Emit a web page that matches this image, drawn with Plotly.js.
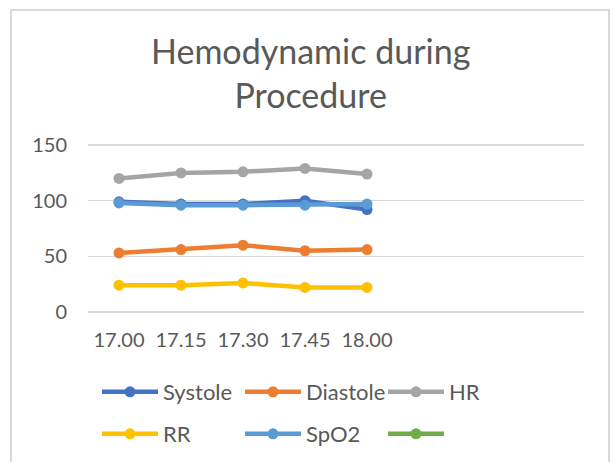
<!DOCTYPE html>
<html>
<head>
<meta charset="utf-8">
<script src="https://cdn.plot.ly/plotly-3.0.1.min.js"></script>
<style>
  html, body { margin: 0; padding: 0; background: #ffffff; }
  #frame { position: absolute; left: 10px; top: 9px; width: 600px; height: 470px; border: 2px solid #d9d9d9; box-sizing: border-box; }
  #chart { position: absolute; left: 0; top: 0; width: 614px; height: 462px; }
</style>
</head>
<body>
<div id="frame"></div>
<div id="chart"></div>
<script>
const times = ["17.00", "17.15", "17.30", "17.45", "18.00"];
const systole = [99, 97, 97, 100, 92];
const diastole = [53, 56, 60, 55, 56];
const hr = [120, 125, 126, 129, 124];
const rr = [24, 24, 26, 22, 22];
const spo2 = [98, 96, 96, 96, 97];
const extra = [null, null, null, null, null];
const yTicks = [0, 50, 100, 150];

const colors = {
  systole: "#4472C4", diastole: "#ED7D31", hr: "#A5A5A5",
  rr: "#FFC000", spo2: "#5B9BD5", extra: "#70AD47"
};

function series(name, y, color, legend) {
  return {
    type: "scatter", mode: "lines+markers", name: name,
    x: times, y: y, legend: legend,
    line: { color: color, width: 4.5 },
    marker: { color: color, size: 11 },
    hoverinfo: "skip"
  };
}

const data = [
  series("Systole", systole, colors.systole, "legend"),
  series("Diastole", diastole, colors.diastole, "legend"),
  series("HR", hr, colors.hr, "legend"),
  series("RR", rr, colors.rr, "legend2"),
  series("SpO2", spo2, colors.spo2, "legend2"),
  series(" ", extra, colors.extra, "legend2")
];

const font = { family: "Lato, 'Open Sans', sans-serif", color: "#595959" };

function legendRow(y) {
  return {
    orientation: "h", xref: "container", yref: "container",
    x: 0.158, xanchor: "left", y: y, yanchor: "middle",
    entrywidth: 72, entrywidthmode: "pixels", itemwidth: 56,
    font: Object.assign({}, font, { size: 22 }), bgcolor: "rgba(0,0,0,0)",
    traceorder: "normal", itemclick: false, itemdoubleclick: false
  };
}

// gridline at the baseline value, drawn in axis coordinates
const baseGrid = {
  type: "line", layer: "below", xref: "paper", x0: 0, x1: 1,
  yref: "y", y0: yTicks[0], y1: yTicks[0],
  line: { color: "#d9d9d9", width: 1.5 }
};

const layout = {
  width: 614, height: 462,
  paper_bgcolor: "rgba(0,0,0,0)", plot_bgcolor: "rgba(0,0,0,0)",
  margin: { l: 88, r: 30, t: 134, b: 139, pad: 0 },
  font: Object.assign({ size: 20 }, font),
  title: {
    text: "Hemodynamic during<br>Procedure",
    font: Object.assign({}, font, { size: 34 }),
    x: 0.506, xanchor: "center", xref: "container",
    y: 0.862, yanchor: "bottom", yref: "container"
  },
  xaxis: {
    type: "category", categoryorder: "array", categoryarray: times,
    range: [-0.5, 7.5], showgrid: false, zeroline: false, showline: false,
    ticks: "", tickfont: Object.assign({}, font, { size: 20 }),
    ticklabelstandoff: 3, fixedrange: true
  },
  yaxis: {
    range: [-10, 160], tickvals: yTicks,
    showgrid: true, gridcolor: "#d9d9d9", gridwidth: 1.5,
    zeroline: false, showline: false, ticks: "",
    tickfont: Object.assign({}, font, { size: 20 }),
    ticklabelstandoff: 20, fixedrange: true
  },
  shapes: [baseGrid],
  legend: legendRow(0.1515),
  legend2: legendRow(0.0606),
  showlegend: true
};

Plotly.newPlot("chart", data, layout, { displayModeBar: false, staticPlot: true });
</script>
</body>
</html>
